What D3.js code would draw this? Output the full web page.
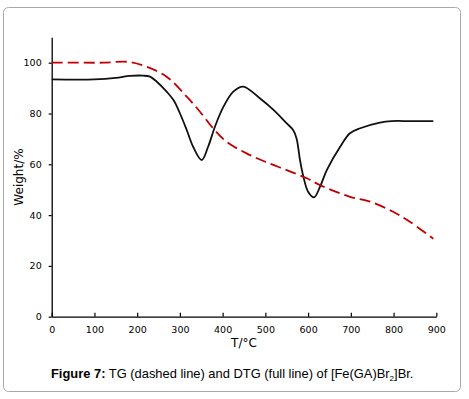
<!DOCTYPE html>
<html>
<head>
<meta charset="utf-8">
<script src="https://cdn.jsdelivr.net/npm/d3@7"></script>
<style>
  body { margin: 0; background: #fff; }
  svg { display: block; }
</style>
</head>
<body>
<svg id="chart" width="469" height="399"></svg>
<script>
// TG curve (dashed red): temperature (°C) and weight (%)
const tgTemp   = [0, 60, 120, 180, 222, 269, 316, 347, 378, 409, 456, 503, 550, 597, 628, 698, 745, 799, 838, 893];
const tgWeight = [100, 100, 100, 100.3, 98.4, 94.5, 86.6, 80.7, 74.1, 68.9, 64.3, 60.8, 57.7, 54.5, 51.8, 47.2, 45.3, 41.3, 37.4, 30.7];

// DTG curve (full black line)
const dtgTemp   = [0, 100, 150, 183, 214, 230, 246, 269, 285, 300, 316, 331, 351, 366, 382, 402, 425, 448, 487, 519, 550, 565, 573, 581, 589, 600, 614, 628, 644, 675, 698, 722, 768, 795, 840, 893];
const dtgValue  = [93.4, 93.4, 94.0, 94.8, 94.9, 94.5, 92.5, 88.6, 85.3, 80.1, 73.5, 66.9, 61.7, 66.9, 74.8, 82.7, 88.6, 90.6, 86.0, 81.4, 76.1, 73.5, 70.2, 61.7, 55.1, 49.2, 47.0, 51.2, 57.8, 66.9, 72.2, 74.2, 76.4, 77.0, 77.0, 77.0];

const xTicks = [0, 100, 200, 300, 400, 500, 600, 700, 800, 900];
const yTicks = [0, 20, 40, 60, 80, 100];

const svg = d3.select('#chart');

// outer frame
svg.append('rect')
  .attr('x', 3.5).attr('y', 7.5)
  .attr('width', 457).attr('height', 384)
  .attr('rx', 5)
  .attr('fill', 'none')
  .attr('stroke', '#a8a8a8')
  .attr('stroke-width', 1);

const xScale = d3.scaleLinear().domain([0, 900]).range([51.7, 436.3]);
const yScale = d3.scaleLinear().domain([0, 110]).range([316.7, 37.3]);

const tickFont = '"DejaVu Sans", Verdana, sans-serif';

// x axis (ticks point inward)
const xAxis = svg.append('g')
  .attr('transform', `translate(0, ${yScale(0)})`)
  .call(d3.axisBottom(xScale).tickValues(xTicks).tickSizeInner(-4).tickSizeOuter(0).tickPadding(10));
xAxis.select('.domain').attr('stroke', '#000').attr('stroke-width', 1.3);
xAxis.selectAll('.tick line').attr('stroke', '#000').attr('stroke-width', 1.2);
xAxis.selectAll('.tick text')
  .attr('font-family', tickFont).attr('font-size', '9.5px').attr('fill', '#000');

// y axis (ticks point outward)
const yAxis = svg.append('g')
  .attr('transform', `translate(${xScale(0)}, 0)`)
  .call(d3.axisLeft(yScale).tickValues(yTicks).tickSizeInner(3).tickSizeOuter(0).tickPadding(7));
yAxis.select('.domain').attr('stroke', '#000').attr('stroke-width', 1.3);
yAxis.selectAll('.tick line').attr('stroke', '#000').attr('stroke-width', 1.2);
yAxis.selectAll('.tick text')
  .attr('font-family', tickFont).attr('font-size', '9.5px').attr('fill', '#000');

// curves
const tg = tgTemp.map((t, i) => [t, tgWeight[i]]);
const dtg = dtgTemp.map((t, i) => [t, dtgValue[i]]);

const line = d3.line()
  .x(d => xScale(d[0]))
  .y(d => yScale(d[1]))
  .curve(d3.curveCatmullRom.alpha(0.5));

svg.append('path')
  .datum(dtg)
  .attr('d', line)
  .attr('fill', 'none')
  .attr('stroke', '#111')
  .attr('stroke-width', 1.8);

svg.append('path')
  .datum(tg)
  .attr('d', line)
  .attr('fill', 'none')
  .attr('stroke', '#c00000')
  .attr('stroke-width', 1.8)
  .attr('stroke-dasharray', '11,5');

// axis titles
svg.append('text')
  .attr('x', (xScale(0) + xScale(900)) / 2)
  .attr('y', 347)
  .attr('text-anchor', 'middle')
  .attr('font-family', tickFont)
  .attr('font-size', '12px')
  .attr('fill', '#000')
  .text('T/°C');

svg.append('text')
  .attr('transform', `translate(23, ${yScale(55)}) rotate(-90)`)
  .attr('text-anchor', 'middle')
  .attr('font-family', tickFont)
  .attr('font-size', '12px')
  .attr('fill', '#000')
  .text('Weight/%');

// caption
const caption = svg.append('text')
  .attr('x', 51)
  .attr('y', 378)
  .attr('font-family', '"Liberation Sans", Arial, sans-serif')
  .attr('font-size', '12.9px')
  .attr('fill', '#000');
caption.append('tspan').attr('font-weight', 'bold').text('Figure 7:');
caption.append('tspan').text(' TG (dashed line) and DTG (full line) of [Fe(GA)Br');
caption.append('tspan').attr('font-size', '8px').attr('dy', 3).text('2');
caption.append('tspan').attr('dy', -3).text(']Br.');
</script>
</body>
</html>
